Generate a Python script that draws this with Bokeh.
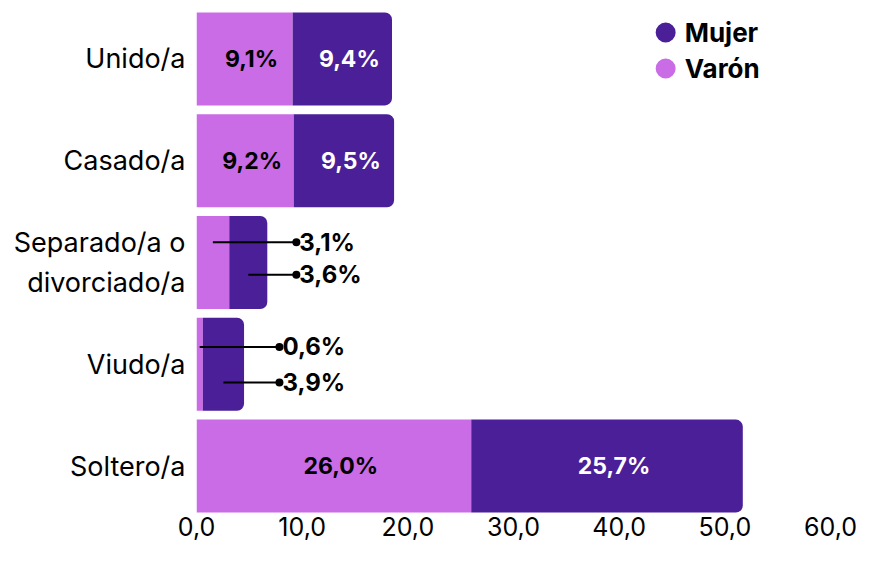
from bokeh.plotting import figure
from bokeh.models import ColumnDataSource, FixedTicker, Range1d
from bokeh.embed import file_html
from bokeh.resources import INLINE
from bokeh.core.properties import value

# ---------------- data ----------------
categories = ["Unido/a", "Casado/a", "Separado/a o\ndivorciado/a", "Viudo/a", "Soltero/a"]
varon = [9.1, 9.2, 3.1, 0.6, 26.0]
mujer = [9.4, 9.5, 3.6, 3.9, 25.7]
x_ticks = [0, 10, 20, 30, 40, 50, 60]
x_tick_labels = ["0,0", "10,0", "20,0", "30,0", "40,0", "50,0", "60,0"]
series_names = ["Mujer", "Varón"]

# ---------------- style ----------------
C_VARON = "#c96ce6"
C_MUJER = "#4a1f97"
FONT = "Inter"
ypos = [4, 3, 2, 1, 0]
BAR_H = 0.913
INSIDE_MIN = 5.0
callout_gap = {2: 2.75, 3: 3.35}          # distance of callout dot past the bar end
callout_dy_varon = {2: 0.2, 3: 0.17}
callout_dy_mujer = {2: -0.12, 3: -0.18}
LEG_X = 44.4                               # legend placement (data units)
LEG_Y = [4.26, 3.906]
LEG_TEXT_DX = 1.8


def fmt(v):
    return f"{v:.1f}".replace(".", ",") + "%"


p = figure(width=857, height=548, output_backend="svg", toolbar_location=None,
           x_range=Range1d(0, 60), y_range=Range1d(-0.476, 4.5744),
           min_border_left=196, min_border_right=27, min_border_top=0,
           min_border_bottom=34)
p.outline_line_color = None
p.xgrid.visible = False
p.ygrid.visible = False
p.background_fill_color = "white"

vend = varon
mend = [a + b for a, b in zip(varon, mujer)]
src = ColumnDataSource(dict(y=ypos, zero=[0] * len(ypos), vend=vend, mend=mend))

p.hbar(y="y", left="zero", right="vend", height=BAR_H, source=src,
       fill_color=C_VARON, line_color=None)
p.hbar(y="y", left="vend", right="mend", height=BAR_H, source=src,
       fill_color=C_MUJER, line_color=None, border_radius=(0, 7, 7, 0))

in_v = dict(x=[], y=[], t=[])
in_m = dict(x=[], y=[], t=[])
co_lines = dict(xs=[], ys=[])
co_dots = dict(x=[], y=[])
co_text = dict(x=[], y=[], t=[])
for i, yy in enumerate(ypos):
    v, m = varon[i], mujer[i]
    if v >= INSIDE_MIN and m >= INSIDE_MIN:
        in_v["x"].append(v / 2); in_v["y"].append(yy); in_v["t"].append(fmt(v))
        in_m["x"].append(v + m / 2); in_m["y"].append(yy); in_m["t"].append(fmt(m))
    else:
        end = v + m + callout_gap[i]
        for mid, dy, val in ((v / 2, callout_dy_varon[i], v),
                             (v + m / 2, callout_dy_mujer[i], m)):
            co_lines["xs"].append([mid, end]); co_lines["ys"].append([yy + dy, yy + dy])
            co_dots["x"].append(end); co_dots["y"].append(yy + dy)
            co_text["x"].append(end); co_text["y"].append(yy + dy); co_text["t"].append(fmt(val))

p.text(x="x", y="y", text="t", source=ColumnDataSource(in_v), text_align="center",
       text_baseline="middle", text_font=value(FONT), text_font_style="bold",
       text_font_size="23px", text_color="black", x_offset=7)
p.text(x="x", y="y", text="t", source=ColumnDataSource(in_m), text_align="center",
       text_baseline="middle", text_font=value(FONT), text_font_style="bold",
       text_font_size="23px", text_color="white", x_offset=7)

p.multi_line(xs="xs", ys="ys", source=ColumnDataSource(co_lines), line_color="black",
             line_width=2)
p.scatter(x="x", y="y", source=ColumnDataSource(co_dots), size=8, fill_color="black",
          line_color=None)
p.text(x="x", y="y", text="t", source=ColumnDataSource(co_text), text_align="left",
       text_baseline="middle", text_font=value(FONT), text_font_style="bold",
       text_font_size="24px", text_color="black", x_offset=3)

# legend (drawn by hand: circle + bold label)
leg_src = ColumnDataSource(dict(x=[LEG_X] * 2, y=LEG_Y, tx=[LEG_X + LEG_TEXT_DX] * 2,
                                name=series_names, color=[C_MUJER, C_VARON]))
p.scatter(x="x", y="y", source=leg_src, size=20, fill_color="color", line_color=None)
p.text(x="tx", y="y", text="name", source=leg_src, text_align="left",
       text_baseline="middle", text_font=value(FONT), text_font_style="bold",
       text_font_size="26px", text_color="black")

# axes
p.xaxis.ticker = FixedTicker(ticks=x_ticks)
p.xaxis.major_label_overrides = {t: l for t, l in zip(x_ticks, x_tick_labels)}
p.yaxis.ticker = FixedTicker(ticks=ypos)
p.yaxis.major_label_overrides = {t: c for t, c in zip(ypos, categories)}
for ax in (p.xaxis, p.yaxis):
    ax.axis_line_color = None
    ax.major_tick_line_color = None
    ax.minor_tick_line_color = None
    ax.major_tick_in = 0
    ax.major_tick_out = 0
    ax.minor_tick_out = 0
    ax.minor_tick_in = 0
    ax.major_label_text_font = FONT
    ax.major_label_text_color = "black"
p.xaxis.major_label_text_font_size = "25px"
p.yaxis.major_label_text_font_size = "27px"
p.xaxis.major_label_standoff = 2
p.yaxis.major_label_standoff = 11

open("out.html", "w").write(file_html(p, INLINE))
